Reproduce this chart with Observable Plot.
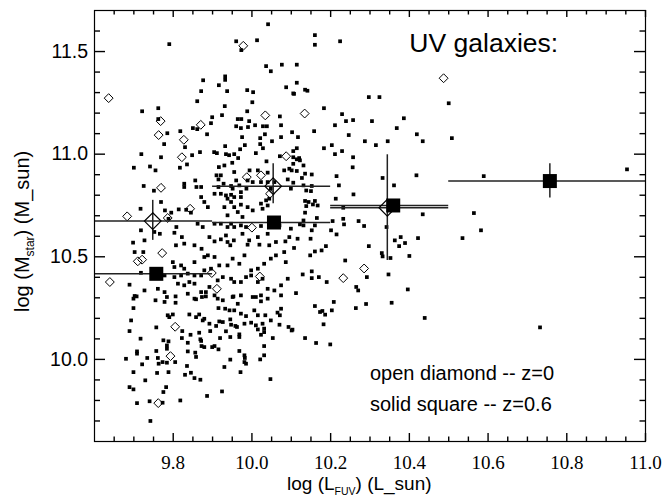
<!DOCTYPE html>
<html><head><meta charset="utf-8">
<script src="https://cdn.jsdelivr.net/npm/d3@7"></script>
<script src="https://cdn.jsdelivr.net/npm/@observablehq/plot@0.6"></script>
<style>body{margin:0;background:#fff}</style>
</head><body><div id="chart"></div>
<script>
// individual z=0.6 galaxies (small solid squares): [log L_FUV, log M_star]
const squaresZ06 = [
[9.790,11.536],[10.041,11.633],[9.960,11.550],[10.013,11.555],[9.973,11.507],[10.036,11.429],[10.048,11.404],[10.076,11.436],[10.087,11.326],[10.105,11.296],[9.876,11.360],[9.932,11.379],[9.932,11.362],[9.916,11.336],[9.871,11.307],[9.937,11.307],[9.988,11.312],[10.003,11.302],[9.861,11.258],[10.001,11.253],[9.931,11.234],[9.721,11.209],[9.762,11.224],[9.988,11.209],[9.899,11.180],[9.924,11.190],[9.762,11.171],[9.964,11.171],[9.973,11.171],[9.993,11.161],[10.071,11.184],[9.896,11.151],[9.850,11.127],[9.861,11.122],[9.960,11.136],[9.972,11.127],[9.990,11.132],[10.008,11.141],[10.028,11.136],[10.038,11.136],[10.074,11.141],[9.785,11.102],[9.818,11.112],[9.886,11.097],[9.975,11.083],[10.021,11.078],[10.033,11.097],[10.074,11.083],[10.102,11.107],[9.777,11.049],[9.830,11.034],[9.932,11.039],[9.982,11.044],[10.021,11.049],[10.028,11.029],[10.051,11.063],[9.970,11.024],[9.719,11.000],[9.769,10.985],[9.848,10.995],[9.868,11.010],[9.904,11.010],[9.911,11.005],[9.934,11.000],[9.942,10.995],[9.955,11.000],[9.965,10.981],[10.010,11.005],[10.071,10.990],[10.105,11.015],[10.105,10.985],
[10.160,11.580],[10.160,11.533],[10.224,11.550],[10.114,11.436],[10.114,11.348],[10.135,11.314],[10.141,11.309],[10.107,11.294],[10.297,11.278],[10.324,11.278],[10.500,11.248],[10.183,11.224],[10.229,11.195],[10.239,11.161],[10.257,11.166],[10.305,11.161],[10.386,11.175],[10.368,11.127],[10.211,11.141],[10.158,11.112],[10.117,11.083],[10.246,11.093],[10.419,11.097],[10.434,11.063],[10.508,11.078],[10.287,11.063],[10.315,11.044],[10.345,11.063],[10.183,11.029],[10.203,11.044],[10.114,11.029],[10.229,11.015],[10.211,11.000],[10.257,10.985],[10.120,10.981],
[10.114,10.975],[10.122,10.970],[10.105,10.953],[10.101,10.921],[10.114,10.918],[10.131,10.945],[10.135,10.905],[10.152,10.901],[10.127,10.884],[10.105,10.861],[10.131,10.848],[10.152,10.845],[10.138,10.823],[10.150,10.820],[10.135,10.772],[10.144,10.767],[10.160,10.772],[10.167,10.750],[10.138,10.747],[10.155,10.755],[10.135,10.715],[10.165,10.689],[10.131,10.677],[10.122,10.658],[10.131,10.653],[10.152,10.629],[10.160,10.653],[10.116,10.588],[10.149,10.588],[10.107,10.543],[10.160,10.526],[10.177,10.531],[10.188,10.552],[10.148,10.507],[10.256,10.936],[10.215,10.893],[10.221,10.848],[10.213,10.783],[10.258,10.804],[10.332,10.884],[10.361,10.848],[10.418,10.897],[10.232,10.739],[10.205,10.674],[10.232,10.685],[10.234,10.658],[10.201,10.629],[10.215,10.609],[10.271,10.674],[10.285,10.650],[10.342,10.645],[10.434,10.707],[10.297,10.552],[10.330,10.518],[10.332,10.502],[10.352,10.494],[10.363,10.580],[10.378,10.596],[10.389,10.567],[10.374,10.552],[10.422,10.591],[10.400,10.504],[10.237,10.482],[10.292,10.401],[10.347,10.414],[10.129,10.414],[10.152,10.429],[10.152,10.396],[10.170,10.401],[10.190,10.377],[10.265,10.353],[10.270,10.336],[10.396,10.341],[10.112,10.323],[10.535,10.591],[10.564,10.713],[10.582,10.629],[10.589,10.893],
[10.160,10.260],[10.173,10.231],[10.179,10.236],[10.186,10.218],[10.182,10.171],[10.203,10.239],[10.208,10.280],[10.264,10.250],[10.290,10.270],[10.355,10.276],[10.439,10.202],[10.101,10.141],[10.135,10.104],[10.163,10.080],[10.199,10.073],
[9.699,10.296],[9.707,10.307],[9.755,10.288],[9.778,10.280],[9.784,10.304],[9.806,10.307],[9.806,10.276],[9.858,10.293],[9.873,10.304],[9.883,10.307],[9.926,10.288],[9.953,10.307],[9.964,10.271],[10.010,10.304],[10.023,10.283],[9.699,10.250],[9.915,10.250],[9.932,10.247],[9.943,10.239],[9.955,10.239],[9.972,10.223],[9.985,10.211],[10.006,10.239],[10.015,10.215],[10.034,10.215],[10.065,10.228],[10.074,10.247],[10.071,10.215],[9.693,10.190],[9.786,10.215],[9.799,10.219],[9.790,10.206],[9.841,10.219],[9.858,10.206],[9.866,10.219],[9.875,10.190],[9.879,10.198],[9.892,10.174],[9.909,10.163],[9.917,10.185],[9.926,10.182],[9.945,10.195],[9.947,10.169],[9.958,10.163],[9.962,10.158],[9.981,10.174],[9.998,10.179],[10.010,10.166],[10.027,10.174],[10.031,10.150],[10.015,10.146],[10.048,10.190],[10.070,10.169],[10.093,10.158],[10.103,10.145],[9.689,10.138],[9.757,10.156],[9.823,10.138],[9.844,10.120],[9.866,10.130],[9.894,10.138],[9.934,10.137],[9.968,10.122],[9.968,10.109],[10.023,10.120],[10.031,10.133],[10.053,10.104],[9.717,10.101],[9.775,10.093],[9.788,10.088],[9.822,10.104],[9.837,10.081],[9.869,10.098],[9.871,10.090],[9.872,10.065],[9.879,10.060],[9.899,10.060],[9.905,10.065],[9.915,10.049],[9.919,10.104],[9.945,10.109],[9.784,10.068],[9.784,10.052],[9.757,10.041],[9.708,10.039],[9.708,10.028],[9.837,10.039],[9.856,10.033],[9.858,10.012],[9.968,10.041],[9.981,10.020],[9.982,10.007],[10.031,10.065],[10.031,10.020],[10.021,10.000],[9.680,10.003],[9.734,10.007],[9.761,10.007],[9.763,9.979],[9.773,9.987],[9.784,9.984],[9.805,9.987],[9.721,9.976],[9.835,9.968],[9.930,9.963],[9.945,9.999],[9.981,9.987],[9.985,9.979],[9.699,9.938],[9.759,9.934],[9.788,9.938],[9.830,9.925],[9.845,9.935],[9.854,9.909],[9.869,9.901],[9.971,9.938],[9.729,9.898],[9.689,9.865],[9.699,9.854],[9.782,9.865],[9.775,9.841],[9.818,9.800],[9.924,9.844],[9.886,9.822],[10.047,9.904],[9.708,9.787],[9.740,9.796],[9.773,9.789],[9.742,9.700],
[9.950,10.958],[9.930,10.945],[9.916,10.937],[10.037,10.965],[9.955,10.913],[9.994,10.921],[10.015,10.921],[9.700,10.934],[9.741,10.940],[9.755,10.921],[9.817,10.934],[9.835,10.950],[10.040,10.910],[10.082,10.921],[10.095,10.929],
[9.725,10.845],[9.751,10.822],[9.828,10.856],[9.828,10.840],[9.856,10.872],[9.859,10.840],[9.871,10.840],[9.871,10.791],[9.910,10.897],[9.915,10.877],[9.921,10.897],[9.928,10.856],[9.915,10.840],[9.947,10.845],[9.951,10.832],[9.960,10.872],[9.968,10.848],[9.972,10.815],[9.986,10.832],[9.989,10.872],[10.002,10.864],[10.023,10.864],[10.040,10.864],[10.057,10.864],[10.091,10.877],[10.099,10.832],[9.905,10.807],[9.921,10.807],[9.934,10.799],[9.947,10.802],[9.955,10.791],[9.972,10.791],[9.938,10.783],
[9.717,10.734],[9.769,10.767],[9.779,10.726],[9.795,10.715],[9.814,10.731],[9.833,10.729],[9.845,10.715],[9.888,10.742],[9.930,10.742],[9.955,10.742],[9.972,10.754],[9.989,10.742],[10.027,10.734],[10.044,10.783],[10.040,10.750],[10.023,10.759],[10.048,10.832],[10.036,10.775],[9.879,10.767],[9.947,10.767],[9.976,10.694],[9.938,10.702],[9.964,10.718],[10.002,10.726],
[9.808,10.645],[9.803,10.617],[9.788,10.685],[9.862,10.661],[9.875,10.645],[9.905,10.661],[9.921,10.661],[9.938,10.645],[9.947,10.661],[9.955,10.645],[9.972,10.653],[9.985,10.645],[10.023,10.650],[10.040,10.612],[10.070,10.653],[10.099,10.637],[9.718,10.629],[9.727,10.580],[9.752,10.621],[9.766,10.612],[9.822,10.596],[9.807,10.556],[9.828,10.564],[9.854,10.556],[9.872,10.539],[9.892,10.596],[9.905,10.575],[9.921,10.585],[9.934,10.604],[9.938,10.572],[9.945,10.556],[9.954,10.580],[9.976,10.612],[9.989,10.559],[9.993,10.580],[10.015,10.596],[10.019,10.559],[10.044,10.556],[10.061,10.572],[10.085,10.575],[10.095,10.596],
[9.698,10.569],[9.724,10.523],[9.702,10.523],[9.799,10.474],[9.803,10.450],[9.820,10.458],[9.828,10.442],[9.854,10.474],[9.879,10.499],[9.888,10.507],[9.905,10.499],[9.917,10.458],[9.938,10.458],[9.951,10.491],[9.968,10.466],[9.981,10.507],[9.998,10.434],[10.015,10.442],[10.031,10.466],[10.048,10.491],[10.061,10.507],[10.082,10.523],[10.086,10.474],[9.896,10.442],[9.879,10.434],[9.778,10.409],[9.803,10.401],[9.820,10.409],[9.837,10.418],[9.854,10.409],[9.871,10.409],[9.718,10.422],
[9.689,10.364],[9.702,10.309],[9.727,10.336],[9.761,10.344],[9.778,10.328],[9.812,10.369],[9.828,10.361],[9.841,10.377],[9.854,10.369],[9.871,10.328],[9.883,10.328],[9.892,10.353],[9.913,10.385],[9.926,10.401],[9.947,10.393],[9.955,10.377],[9.972,10.377],[9.985,10.401],[9.998,10.409],[10.015,10.377],[10.027,10.393],[10.040,10.344],[10.057,10.336],[10.074,10.361],[10.091,10.393],[9.972,10.312],[9.951,10.304],[10.002,10.304],[10.040,10.296],[10.023,10.312],[10.074,10.312],[9.905,10.312],[9.913,10.296],[9.854,10.296],[9.837,10.320],
[10.953,10.926],[10.732,10.156]
];

// individual z=0 galaxies (small open diamonds)
const diamondsZ0 = [
[9.636,11.273],[9.978,11.528],[9.768,11.161],[9.763,11.093],[9.827,11.070],[9.870,11.143],[10.034,11.189],[9.822,10.985],[10.087,10.990],[10.134,11.198],[10.487,11.370],[9.769,10.836],[9.843,10.734],[9.683,10.697],[9.786,10.689],[9.987,10.888],[10.023,10.897],[9.772,10.518],[9.710,10.478],[9.721,10.486],[9.898,10.421],[9.639,10.377],[9.911,10.344],[10.020,10.404],[10.000,10.642],[10.046,10.807],[10.285,10.443],[10.232,10.396],[9.805,10.159],[9.793,10.016],[9.762,9.787]
];

// binned means, z=0 (large open diamonds)
const binZ0X    = [9.748, 10.054, 10.344];
const binZ0Y    = [10.674, 10.844, 10.739];
const binZ0XLo  = [9.6, 9.9, 10.2];
const binZ0XHi  = [9.9, 10.2, 10.5];
const binZ0YLo  = [10.580, 10.758, 10.482];
const binZ0YHi  = [10.775, 10.953, 10.997];

// binned means, z=0.6 (large solid squares)
const binZ06X   = [9.757, 10.056, 10.359, 10.757];
const binZ06Y   = [10.417, 10.667, 10.750, 10.869];
const binZ06XLo = [9.6, 9.9, 10.2, 10.5];
const binZ06XHi = [9.9, 10.2, 10.5, 11.0];
const binZ06YLo = [10.417, 10.667, 10.750, 10.786];
const binZ06YHi = [10.417, 10.667, 10.750, 10.953];

// ticks
const xMajorTicks = [9.8, 10.0, 10.2, 10.4, 10.6, 10.8, 11.0];
const xMinorTicks = [9.65, 9.7, 9.75, 9.85, 9.9, 9.95, 10.05, 10.1, 10.15, 10.25, 10.3, 10.35, 10.45, 10.5, 10.55, 10.65, 10.7, 10.75, 10.85, 10.9, 10.95];
const yMajorTicks = [10.0, 10.5, 11.0, 11.5];
const yMinorTicks = [9.7, 9.8, 9.9, 10.1, 10.2, 10.3, 10.4, 10.6, 10.7, 10.8, 10.9, 11.1, 11.2, 11.3, 11.4, 11.6];

// annotations
const titleText = ["UV galaxies:"];
const titleX = [10.4];
const titleY = [11.5];
const legendText = ["open diamond -- z=0", "solid square -- z=0.6"];
const legendX = [10.3, 10.3];
const legendY = [9.9, 9.75];

const sans = "'Liberation Sans', Arial, Helvetica, sans-serif";
const serif = "'Liberation Serif', 'Times New Roman', serif";

const z0Bins = binZ0X.map((x, i) => ({x, y: binZ0Y[i], x1: binZ0XLo[i], x2: binZ0XHi[i], y1: binZ0YLo[i], y2: binZ0YHi[i]}));
const z06Bins = binZ06X.map((x, i) => ({x, y: binZ06Y[i], x1: binZ06XLo[i], x2: binZ06XHi[i], y1: binZ06YLo[i], y2: binZ06YHi[i]}));

const barStroke = "#222";
const W = 665, H = 496, ML = 94, MR = 20, MT = 10, MB = 55;
const frameW = W - ML - MR, frameH = H - MT - MB;
// inward tick marks: full-frame ticks shortened with insets
const tickStyle = {stroke: "black", strokeWidth: 1.4};
const bottomTicks = (data, len) => Plot.tickX(data, {x: d => d, insetTop: frameH - len, ...tickStyle});
const topTicks = (data, len) => Plot.tickX(data, {x: d => d, insetBottom: frameH - len, ...tickStyle});
const leftTicks = (data, len) => Plot.tickY(data, {y: d => d, insetRight: frameW - len, ...tickStyle});
const rightTicks = (data, len) => Plot.tickY(data, {y: d => d, insetLeft: frameW - len, ...tickStyle});

const plot = Plot.plot({
  width: W, height: H,
  marginLeft: ML, marginRight: MR, marginTop: MT, marginBottom: MB,
  x: {domain: [9.6, 11.0]},
  y: {domain: [9.6, 11.7]},
  style: {fontFamily: sans, background: "white", color: "black"},
  marks: [
    Plot.dot(squaresZ06, {x: d => d[0], y: d => d[1], symbol: "square", r: 2.1, fill: "black", stroke: "none"}),
    Plot.dot(diamondsZ0, {x: d => d[0], y: d => d[1], symbol: "diamond2", r: 4.0, fill: "none", stroke: "black", strokeWidth: 1}),
    Plot.ruleY(z0Bins, {y: "y", x1: "x1", x2: "x2", stroke: barStroke, strokeWidth: 1.5, clip: true}),
    Plot.ruleX(z0Bins, {x: "x", y1: "y1", y2: "y2", stroke: barStroke, strokeWidth: 1.5, clip: true}),
    Plot.ruleY(z06Bins, {y: "y", x1: "x1", x2: "x2", stroke: barStroke, strokeWidth: 1.5, clip: true}),
    Plot.ruleX(z06Bins, {x: "x", y1: "y1", y2: "y2", stroke: barStroke, strokeWidth: 1.5, clip: true}),
    Plot.dot(z0Bins, {x: "x", y: "y", symbol: "diamond2", r: 7.5, fill: "none", stroke: "black", strokeWidth: 1.2}),
    Plot.dot(z06Bins, {x: "x", y: "y", symbol: "square", r: 7.9, fill: "black", stroke: "none"}),
    Plot.text(titleText, {x: titleX, y: titleY, text: d => d, textAnchor: "start", lineAnchor: "bottom", fontSize: 26.5, fontFamily: sans, fill: "black"}),
    Plot.text(legendText, {x: legendX, y: legendY, text: d => d, textAnchor: "start", lineAnchor: "bottom", fontSize: 20, fontFamily: sans, fill: "black"}),
    Plot.frame({stroke: "black", strokeWidth: 1.2}),
    bottomTicks(xMajorTicks, 8),
    bottomTicks(xMinorTicks, 4.5),
    topTicks(xMajorTicks, 7),
    topTicks(xMinorTicks, 4.5),
    leftTicks(yMajorTicks, 11),
    leftTicks(yMinorTicks, 6),
    rightTicks(yMajorTicks, 11),
    rightTicks(yMinorTicks, 5.5),
    // tick labels
    Plot.axisX(xMajorTicks, {anchor: "bottom", tickSize: 0, tickPadding: 14, fontSize: 19, fontFamily: serif, tickFormat: d3.format(".1f"), label: null}),
    Plot.axisY(yMajorTicks, {anchor: "left", tickSize: 0, tickPadding: 6.5, fontSize: 19.5, fontFamily: sans, tickFormat: d3.format(".1f"), label: null})
  ]
});

document.getElementById("chart").appendChild(plot);

// axis titles with subscripts
const svg = d3.select(plot);
const xt = svg.append("text")
  .attr("x", 287).attr("y", 490).attr("text-anchor", "start")
  .attr("font-family", sans).attr("font-size", 19).attr("fill", "black");
xt.append("tspan").text("log (L");
xt.append("tspan").attr("font-size", 10.5).attr("dy", 5).text("FUV");
xt.append("tspan").attr("dy", -5).text(") (L_sun)");

const yt = svg.append("text")
  .attr("transform", "translate(29,312) rotate(-90)").attr("text-anchor", "start")
  .attr("font-family", sans).attr("font-size", 20).attr("fill", "black");
yt.append("tspan").text("log (M");
yt.append("tspan").attr("font-size", 12).attr("dy", 5).text("star");
yt.append("tspan").attr("dy", -5).text(") (M_sun)");
</script>
</body></html>
